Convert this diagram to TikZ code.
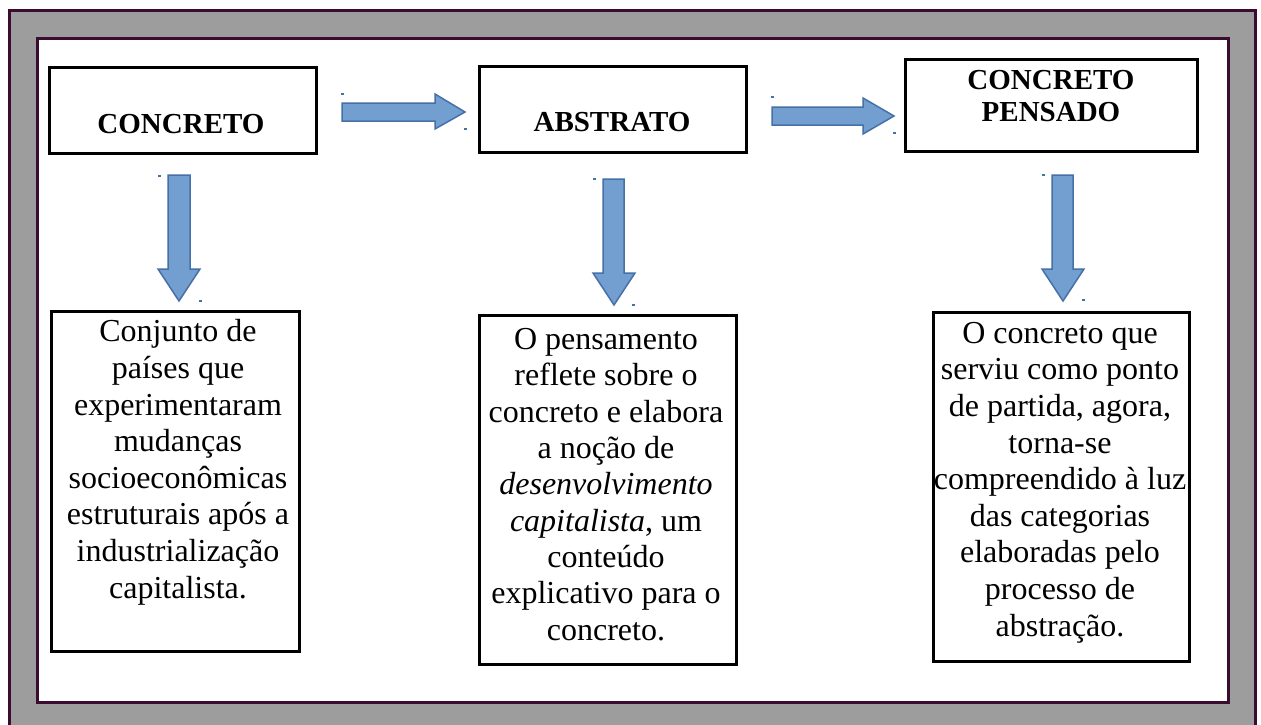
\documentclass[tikz,border=0pt]{standalone}
\usepackage{fontspec}
\setmainfont{Liberation Serif}
\definecolor{framepurple}{RGB}{58,12,48}
\definecolor{framegray}{RGB}{157,157,157}
\definecolor{arrowfill}{RGB}{114,159,207}
\definecolor{arrowline}{RGB}{70,112,168}
\tikzset{
  frameline/.style={draw=framepurple,line width=3pt},
  boxline/.style={draw=black,line width=3pt,inner sep=0pt,anchor=north west},
  blockarrow/.style={fill=arrowfill,draw=arrowline,line width=1.5pt,line join=miter},
  headtext/.style={font=\bfseries\fontsize{29}{32}\selectfont,align=center,inner sep=0pt},
  bodytext/.style={align=center,inner sep=0pt,anchor=base},
  tick/.style={fill=arrowline}
}
\begin{document}
\begin{tikzpicture}[x=1pt,y=-1pt]
\useasboundingbox (0,0) rectangle (1261,725);
\fill[white] (0,0) rectangle (1261,725);
\draw[frameline,fill=framegray] (9,11) rectangle (1255,745);
\draw[frameline,fill=white] (37,39) rectangle (1228,702);

% header boxes
\node[boxline,minimum width=267pt,minimum height=86pt] (c1) at (48,66) {};
\node[boxline,minimum width=267pt,minimum height=86pt] (ab) at (478,65) {};
\node[boxline,minimum width=292pt,minimum height=92pt] (cp) at (904,58) {};
\node[headtext] (t1) at (181,124) {CONCRETO};
\node[headtext] (t2) at (612,122) {ABSTRATO};
\node[headtext] (t3) at (1051,96) {CONCRETO\\PENSADO};

% lower boxes
\node[boxline,minimum width=248pt,minimum height=340pt] (b1) at (50,310) {};
\node[boxline,minimum width=257pt,minimum height=349pt] (b2) at (478,314) {};
\node[boxline,minimum width=256pt,minimum height=349pt] (b3) at (932,311) {};

\node[bodytext,font=\fontsize{32}{36.6}\selectfont] (x1) at (178,598) {Conjunto de\\países que\\experimentaram\\mudanças\\socioeconômicas\\estruturais após a\\industrialização\\capitalista.};
\node[bodytext,font=\fontsize{32}{36.3}\selectfont] (x2) at (606,640) {O pensamento\\reflete sobre o\\concreto e elabora\\a noção de\\\textit{desenvolvimento}\\\textit{capitalista}, um\\conteúdo\\explicativo para o\\concreto.};
\node[bodytext,font=\fontsize{32}{36.6}\selectfont] (x3) at (1060,636) {O concreto que\\serviu como ponto\\de partida, agora,\\torna-se\\compreendido à luz\\das categorias\\elaboradas pelo\\processo de\\abstração.};

% horizontal block arrows
\draw[blockarrow] (342,103) -- (435,103) -- (435,94) -- (465,112) -- (435,129) -- (435,121) -- (342,121) -- cycle;
\draw[blockarrow] (772,107) -- (863,107) -- (863,98) -- (894,116) -- (863,134) -- (863,125) -- (772,125) -- cycle;
% vertical block arrows
\draw[blockarrow] (168,175) -- (190,175) -- (190,269) -- (200,269) -- (179,301) -- (158,269) -- (168,269) -- cycle;
\draw[blockarrow] (603,179) -- (624,179) -- (624,273) -- (635,273) -- (614,305) -- (593,273) -- (603,273) -- cycle;
\draw[blockarrow] (1052,175) -- (1073,175) -- (1073,269) -- (1084,269) -- (1063,301) -- (1042,269) -- (1052,269) -- cycle;

% small handle marks
\foreach \px/\py in {342/94,465/129,772/97,894/133,159/176,200/301,594/179,633/305,1043/175,1083/300}
  \fill[tick] (\px-1.5,\py-1) rectangle (\px+1.5,\py+1);
\end{tikzpicture}
\end{document}
